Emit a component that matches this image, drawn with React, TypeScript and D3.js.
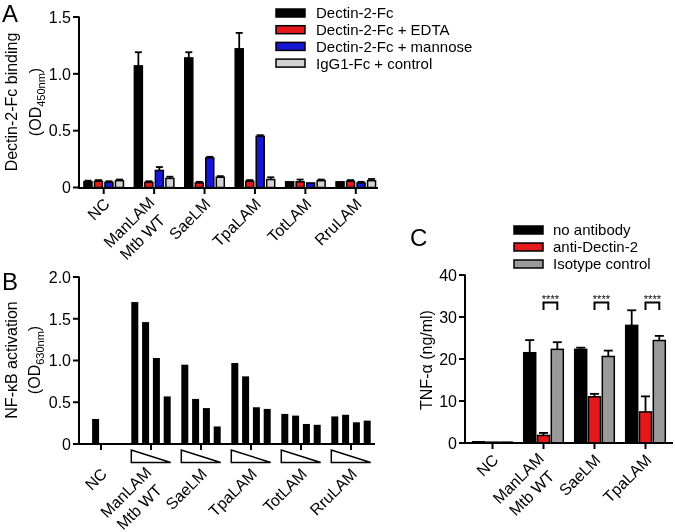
import React from 'react';
import * as d3 from 'd3';

const FONT = '"Liberation Sans", Arial, Helvetica, sans-serif';

// ---------- Panel A data ----------
const catsA = ['NC', 'ManLAM\nMtb WT', 'SaeLM', 'TpaLAM', 'TotLAM', 'RruLAM'];
const seriesA = ['Dectin-2-Fc', 'Dectin-2-Fc + EDTA', 'Dectin-2-Fc + mannose', 'IgG1-Fc + control'];
const colorsA = ['#000000', '#e3191c', '#1616d6', '#d4d4d4'];
const dectinA = [0.05, 1.07, 1.14, 1.22, 0.05, 0.05];
const dectinAErr = [0.06, 1.19, 1.19, 1.36, 0.055, 0.055];
const edtaA = [0.055, 0.045, 0.04, 0.055, 0.05, 0.055];
const edtaAErr = [0.065, 0.055, 0.05, 0.065, 0.07, 0.065];
const mannoseA = [0.045, 0.15, 0.26, 0.45, 0.04, 0.04];
const mannoseAErr = [0.055, 0.18, 0.27, 0.46, 0.045, 0.05];
const iggA = [0.06, 0.08, 0.09, 0.07, 0.06, 0.06];
const iggAErr = [0.07, 0.095, 0.1, 0.09, 0.07, 0.075];
const ticksA = [0, 0.5, 1.0, 1.5];
const tickLabelsA = ['0', '0.5', '1.0', '1.5'];

// ---------- Panel B data ----------
const catsB = ['NC', 'ManLAM\nMtb WT', 'SaeLM', 'TpaLAM', 'TotLAM', 'RruLAM'];
const ncB = [0.3];
const manB = [1.7, 1.46, 1.03, 0.57];
const saeB = [0.95, 0.54, 0.43, 0.21];
const tpaB = [0.97, 0.81, 0.44, 0.42];
const totB = [0.36, 0.34, 0.24, 0.23];
const rruB = [0.33, 0.35, 0.26, 0.28];
const ticksB = [0, 0.5, 1.0, 1.5, 2.0];
const tickLabelsB = ['0', '0.5', '1.0', '1.5', '2.0'];

// ---------- Panel C data ----------
const catsC = ['NC', 'ManLAM\nMtb WT', 'SaeLM', 'TpaLAM'];
const seriesC = ['no antibody', 'anti-Dectin-2', 'Isotype control'];
const colorsC = ['#000000', '#e3191c', '#9a9a9a'];
const noAbC = [0.3, 21.5, 22.3, 28.0];
const noAbCErr = [0.3, 24.5, 22.7, 31.6];
const antiC = [0.2, 1.8, 11.0, 7.4];
const antiCErr = [0.2, 2.4, 11.7, 11.1];
const isoC = [0.2, 22.3, 20.6, 24.4];
const isoCErr = [0.2, 24.0, 22.0, 25.5];
const sigC = ['', '****', '****', '****'];
const ticksC = [0, 10, 20, 30, 40];

const AX = 2;

function YAxis({ scale, ticks, labels, x }: any) {
  const r = scale.range();
  return (
    <g>
      <line x1={x} x2={x} y1={r[0] + AX / 2} y2={r[1] - 0.5} stroke="#000" strokeWidth={AX} />
      {ticks.map((t: number, i: number) => (
        <g key={i}>
          <line x1={x - 6} x2={x} y1={scale(t)} y2={scale(t)} stroke="#000" strokeWidth={AX} />
          <text x={x - 8} y={scale(t)} dy="0.36em" textAnchor="end" fontSize={16} fontFamily={FONT}>
            {labels[i]}
          </text>
        </g>
      ))}
    </g>
  );
}

function XLabels({ scale, cats, y, dxOff = 7 }: any) {
  return (
    <g>
      {cats.map((c: string) => {
        const cx = (scale(c) as number) + scale.bandwidth() / 2;
        const lines = c.split('\n');
        const multi = lines.length > 1;
        return (
          <g key={c} transform={`translate(${cx + dxOff},${y}) rotate(-45)`}>
            {lines.map((l, i) => (
              <text key={i} x={multi ? -3 - i * 5 : 0} y={multi ? -5 + i * 20 : 0}
                textAnchor="end" fontSize={16} fontFamily={FONT}>{l}</text>
            ))}
          </g>
        );
      })}
    </g>
  );
}

function XAxis({ scale, cats, y, x1, x2 }: any) {
  return (
    <g>
      <line x1={x1} x2={x2} y1={y} y2={y} stroke="#000" strokeWidth={AX} />
      {cats.map((c: string) => {
        const cx = (scale(c) as number) + scale.bandwidth() / 2;
        return <line key={c} x1={cx} x2={cx} y1={y} y2={y + 6} stroke="#000" strokeWidth={AX} />;
      })}
    </g>
  );
}

function ErrBar({ x, yTop, yVal, w }: any) {
  if (yVal - yTop < 1) return null;
  return (
    <g stroke="#000" strokeWidth={1.8}>
      <line x1={x} x2={x} y1={yVal} y2={yTop} />
      <line x1={x - w / 2} x2={x + w / 2} y1={yTop} y2={yTop} />
    </g>
  );
}

export default function App() {
  // ---------- Panel A ----------
  const yA = d3.scaleLinear().domain([0, 1.5]).range([187.5, 17]);
  const xA = d3.scaleBand().domain(catsA).range([78.5, 381]);
  const valsA = [dectinA, edtaA, mannoseA, iggA];
  const errsA = [dectinAErr, edtaAErr, mannoseAErr, iggAErr];
  const bwA = 8, stepA = 10.5;

  // ---------- Panel B ----------
  const yB = d3.scaleLinear().domain([0, 2]).range([444, 277]);
  const xB = d3.scaleBand().domain(catsB).range([76, 376]);
  const groupsB = [ncB, manB, saeB, tpaB, totB, rruB];
  const bwB = 7, stepB = 10.8;

  // ---------- Panel C ----------
  const yC = d3.scaleLinear().domain([0, 40]).range([443, 275]);
  const xC = d3.scaleBand().domain(catsC).range([467, 671]);
  const valsC = [noAbC, antiC, isoC];
  const errsC = [noAbCErr, antiCErr, isoCErr];
  const bwC = 12, stepC = 13.8;

  return (
    <svg width={675} height={532}
      style={{ position: 'absolute', left: 0, top: 0, background: '#fff', willChange: 'transform' }}
      fontFamily={FONT}>
      <rect width={675} height={532} fill="#fff" />
      {/* Panel letters */}
      <text x={2} y={22} fontSize={24} fontFamily={FONT}>A</text>
      <text x={2} y={290} fontSize={24} fontFamily={FONT}>B</text>
      <text x={410} y={246} fontSize={24} fontFamily={FONT}>C</text>

      {/* ===== Panel A ===== */}
      <g transform={`translate(17,102) rotate(-90)`}>
        <text textAnchor="middle" fontSize={16} fontFamily={FONT}>Dectin-2-Fc binding</text>
      </g>
      <g transform={`translate(41,102) rotate(-90)`}>
        <text textAnchor="middle" fontSize={16} fontFamily={FONT}>
          (OD<tspan fontSize={11} dy={4}>450nm</tspan><tspan dy={-4}>)</tspan>
        </text>
      </g>
      {catsA.map((c, ci) => {
        const cx = (xA(c) as number) + xA.bandwidth() / 2;
        return (
          <g key={c}>
            {valsA.map((vals, si) => {
              const bx = cx + (si - 1.5) * stepA;
              return (
                <g key={si}>
                  <ErrBar x={bx} yTop={yA(errsA[si][ci])} yVal={yA(vals[ci])} w={7} />
                  <rect x={bx - bwA / 2} y={yA(vals[ci])} width={bwA} height={yA(0) - yA(vals[ci])}
                    fill={colorsA[si]} stroke="#000" strokeWidth={1.5} />
                </g>
              );
            })}
          </g>
        );
      })}
      <YAxis scale={yA} ticks={ticksA} labels={tickLabelsA} x={79} />
      <XAxis scale={xA} cats={catsA} y={188} x1={78} x2={378} />
      <XLabels scale={xA} cats={catsA} y={205} />
      {/* Legend A */}
      {seriesA.map((s, i) => (
        <g key={s} transform={`translate(276,${13 + i * 16.7})`}>
          <rect x={0} y={-4} width={29} height={8} fill={colorsA[i]} stroke="#000" strokeWidth={1.5} />
          <text x={40} y={0} dy="0.36em" fontSize={15} fontFamily={FONT}>{s}</text>
        </g>
      ))}

      {/* ===== Panel B ===== */}
      <g transform={`translate(17,360) rotate(-90)`}>
        <text textAnchor="middle" fontSize={16} fontFamily={FONT}>NF-κB activation</text>
      </g>
      <g transform={`translate(40,360) rotate(-90)`}>
        <text textAnchor="middle" fontSize={16} fontFamily={FONT}>
          (OD<tspan fontSize={11} dy={4}>630nm</tspan><tspan dy={-4}>)</tspan>
        </text>
      </g>
      {catsB.map((c, ci) => {
        const cx = (xB(c) as number) + xB.bandwidth() / 2;
        const vals = groupsB[ci];
        const single = vals.length === 1;
        return (
          <g key={c}>
            {vals.map((v, si) => {
              const slot = single ? 1 : si;
              const bx = cx + (slot - 1.5) * stepB;
              return <rect key={si} x={bx - bwB / 2} y={yB(v)} width={bwB} height={yB(0) - yB(v)} fill="#000" />;
            })}
            {!single && (() => {
              const l = cx - 1.5 * stepB - bwB / 2;
              const r = cx + 1.5 * stepB + bwB / 2;
              return <path d={`M${l},450 L${l},462.5 L${r},462.5 Z`} fill="#fff" stroke="#000" strokeWidth={1.5} />;
            })()}
          </g>
        );
      })}
      <YAxis scale={yB} ticks={ticksB} labels={tickLabelsB} x={79} />
      <XAxis scale={xB} cats={catsB} y={444} x1={78} x2={375} />
      <XLabels scale={xB} cats={catsB} y={475} />

      {/* ===== Panel C ===== */}
      <g transform={`translate(432,360) rotate(-90)`}>
        <text textAnchor="middle" fontSize={16} fontFamily={FONT}>TNF-α (ng/ml)</text>
      </g>
      {catsC.map((c, ci) => {
        const cx = (xC(c) as number) + xC.bandwidth() / 2;
        return (
          <g key={c}>
            {valsC.map((vals, si) => {
              const bx = cx + (si - 1) * stepC;
              return (
                <g key={si}>
                  <ErrBar x={bx} yTop={yC(errsC[si][ci])} yVal={yC(vals[ci])} w={9} />
                  <rect x={bx - bwC / 2} y={yC(vals[ci])} width={bwC} height={yC(0) - yC(vals[ci])}
                    fill={colorsC[si]} stroke="#000" strokeWidth={1.5} />
                </g>
              );
            })}
            {sigC[ci] && (
              <g>
                <path d={`M${cx},310 L${cx},302.5 L${cx + stepC},302.5 L${cx + stepC},310`} fill="none" stroke="#000" strokeWidth={2} />
                <text x={cx + stepC / 2} y={303} textAnchor="middle" fontSize={11} fontFamily={FONT}>{sigC[ci]}</text>
              </g>
            )}
          </g>
        );
      })}
      <YAxis scale={yC} ticks={ticksC} labels={ticksC.map(String)} x={465} />
      <XAxis scale={xC} cats={catsC} y={443} x1={464} x2={673} />
      <XLabels scale={xC} cats={catsC} y={461} />
      {/* Legend C */}
      {seriesC.map((s, i) => (
        <g key={s} transform={`translate(514,${230 + i * 17})`}>
          <rect x={0} y={-4} width={29} height={8} fill={colorsC[i]} stroke="#000" strokeWidth={1.5} />
          <text x={39} y={0} dy="0.36em" fontSize={15} fontFamily={FONT}>{s}</text>
        </g>
      ))}
    </svg>
  );
}
